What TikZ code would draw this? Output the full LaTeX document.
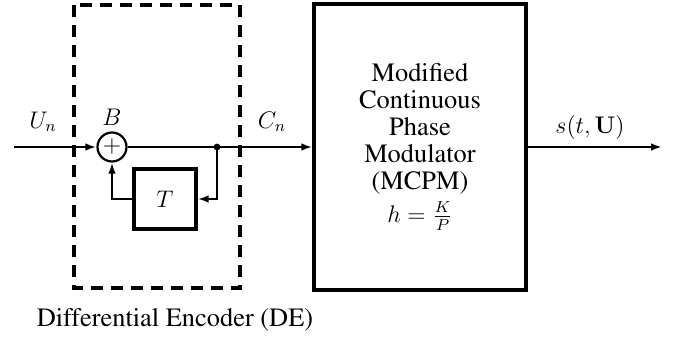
\documentclass[tikz,border=0pt]{standalone}
\usepackage[T1]{fontenc}
\usepackage{times}
\usetikzlibrary{arrows.meta}

\tikzset{
  sig/.style={line width=1.1pt},
  arr/.style={sig,-{Latex[length=5.5pt,width=3.8pt]}},
  blk/.style={draw,line width=1.6pt,inner sep=0pt},
  lbl/.style={inner sep=0pt}
}

\begin{document}
\begin{tikzpicture}[x=0.5pt,y=-0.5pt,font=\rmfamily\fontsize{13.2}{13.6}\selectfont]
 \useasboundingbox (0,0) rectangle (679,347);

 % encoder
  \coordinate (In) at (14,147);
  \node[draw,circle,sig,minimum size=14.5pt,inner sep=0pt] (Sum) at (112,147) {\large$+$};
  \node[lbl] (Blab) at (112,117) {\large$B$};
  \node[lbl] (Ulab) at (43,122) {\large$U_n$};
  \fill[black] (217,147) circle (1.7pt) coordinate (Dot);
  \node[blk,minimum width=31pt,minimum height=30pt] (Tbox) at (165,199) {\large$T$};
  \coordinate (Tr) at (217,199);
  \coordinate (Tl) at (112,199);
  \draw[blk,dashed,dash pattern=on 6pt off 4pt] (74,5) rectangle (240,288);
  \node[lbl] (DElab) at (175,320) {Differential Encoder (DE)};

 % modulator
  \node[blk,minimum width=106pt,minimum height=143pt] (Mod) at (420,147) {};
  \node[lbl,align=center] (ModText) at (420,129)
    {Modified\\Continuous\\Phase\\Modulator\\(MCPM)};
  \node[lbl] (hlab) at (420,216) {\large$h=\frac{K}{P}$};
  \node[lbl] (Clab) at (272,122) {\large$C_n$};
  \node[lbl] (Slab) at (590,128) {\large$s(t,\mathbf{U})$};
  \coordinate (Out) at (662,147);

 % connections
  \draw[arr] (In) -- (Sum.west);
  \draw[arr] (Sum.east) -- (Mod.west);
  \draw[arr] (Dot) -- (Tr) -- (Tbox.east);
  \draw[arr] (Tbox.west) -- (Tl) -- (Sum.south);
  \draw[arr] (Mod.east) -- (Out);
\end{tikzpicture}
\end{document}
